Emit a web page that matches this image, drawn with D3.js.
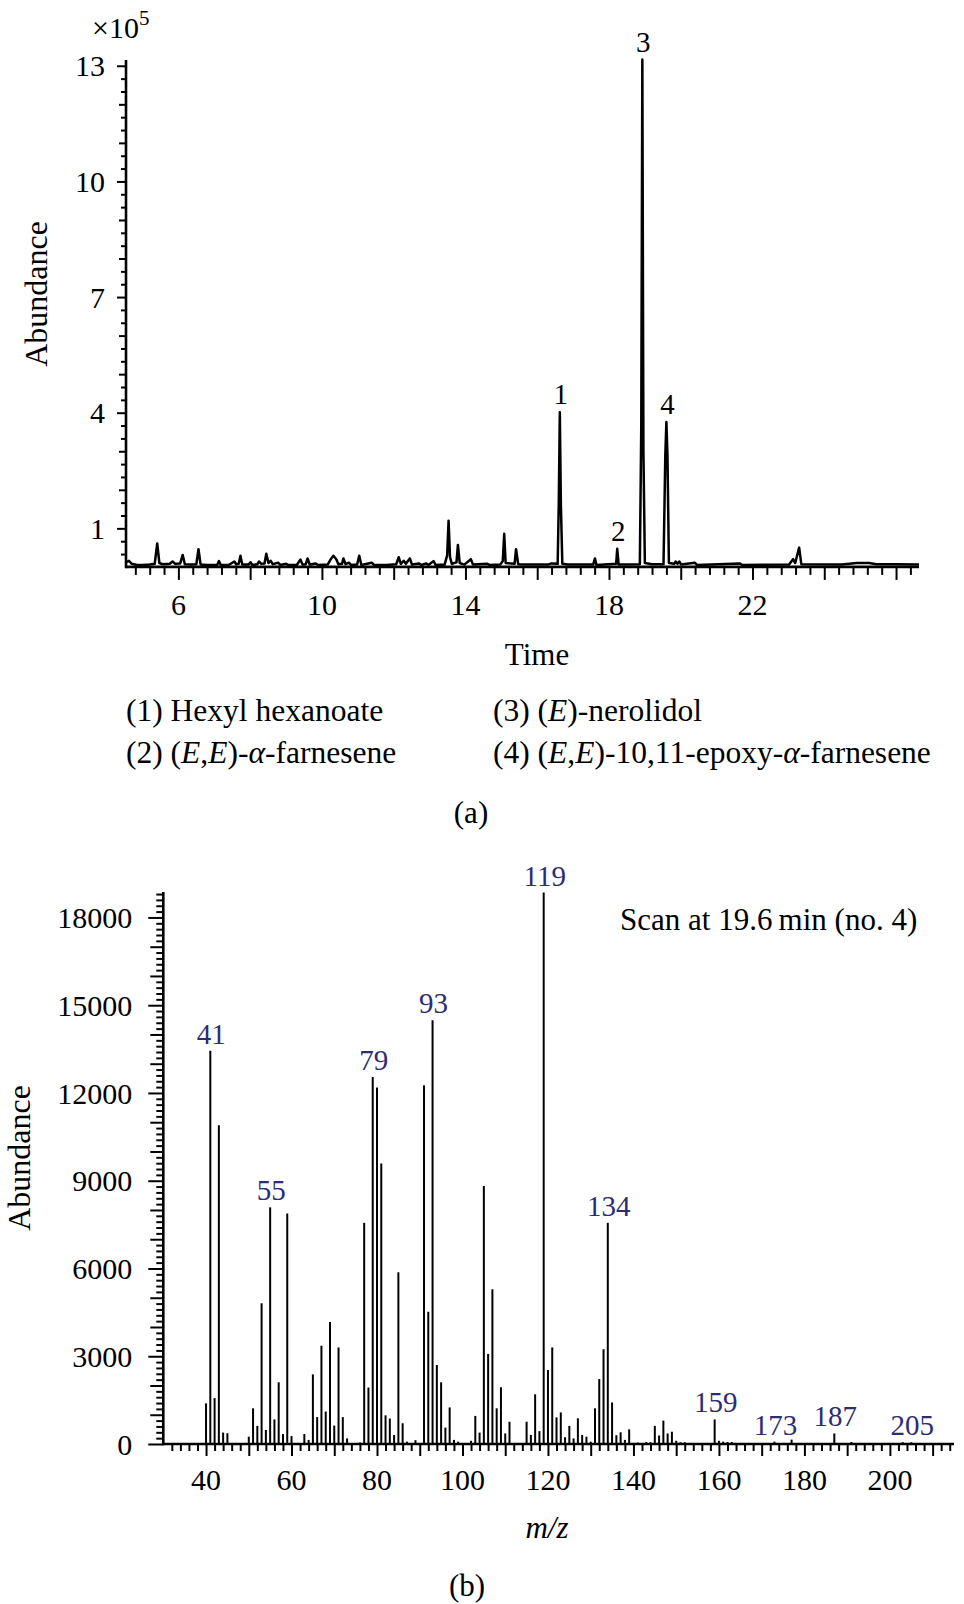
<!DOCTYPE html>
<html>
<head>
<meta charset="utf-8">
<script src="https://cdn.jsdelivr.net/npm/d3@7"></script>
<style>
  html, body { margin: 0; padding: 0; background: #fff; }
  svg text { font-family: "Liberation Serif", "Times New Roman", serif; fill: #000; }
</style>
</head>
<body>
<svg id="fig" width="964" height="1604"></svg>
<script>
// ---------- (a) total ion chromatogram ----------
// retention time (min) and abundance (x10^5) along the trace
const traceTime = [
  4.54, 4.62, 4.70, 4.85, 5.00, 5.20, 5.34, 5.41, 5.47, 5.56, 5.76, 5.84, 5.91, 6.05, 6.12, 6.18,
  6.36, 6.50, 6.56, 6.62, 6.80, 7.08, 7.13, 7.18, 7.40, 7.56, 7.61, 7.68, 7.73, 7.78, 7.95, 8.01,
  8.06, 8.20, 8.25, 8.31, 8.40, 8.45, 8.51, 8.57, 8.63, 8.78, 8.84, 9.00, 9.06, 9.30, 9.40, 9.46,
  9.55, 9.60, 9.66, 9.83, 9.89, 10.16, 10.26, 10.32, 10.40, 10.46, 10.56, 10.60, 10.66, 10.75,
  10.81, 10.98, 11.04, 11.10, 11.39, 11.45, 11.80, 12.07, 12.14, 12.20, 12.28, 12.34, 12.45, 12.51,
  12.71, 12.77, 12.91, 12.97, 13.11, 13.17, 13.42, 13.49, 13.53, 13.57, 13.62, 13.75, 13.79, 13.84,
  13.97, 14.15, 14.21, 14.61, 14.67, 14.97, 15.04, 15.08, 15.12, 15.37, 15.41, 15.47, 15.70, 16.30,
  16.40, 16.57, 16.60, 16.63, 16.66, 16.70, 16.85, 17.56, 17.61, 17.65, 17.98, 18.20, 18.23, 18.27,
  18.86, 18.90, 18.93, 18.96, 19.00, 19.20, 19.52, 19.57, 19.60, 19.63, 19.67, 19.82, 19.86, 19.91,
  19.96, 20.01, 20.39, 20.45, 21.65, 21.71, 23.02, 23.13, 23.19, 23.30, 23.36, 24.50, 24.90, 25.25,
  25.45, 25.96, 26.64
];
const traceAbundance = [
  0.12, 0.16, 0.08, 0.05, 0.05, 0.06, 0.08, 0.61, 0.10, 0.07, 0.08, 0.14, 0.08, 0.09, 0.31, 0.07,
  0.06, 0.07, 0.46, 0.06, 0.05, 0.05, 0.15, 0.05, 0.05, 0.14, 0.07, 0.08, 0.29, 0.06, 0.06, 0.12,
  0.05, 0.07, 0.14, 0.08, 0.09, 0.34, 0.10, 0.16, 0.07, 0.11, 0.05, 0.08, 0.05, 0.05, 0.19, 0.06,
  0.07, 0.22, 0.06, 0.09, 0.05, 0.06, 0.22, 0.29, 0.20, 0.07, 0.08, 0.22, 0.07, 0.11,
  0.05, 0.06, 0.29, 0.05, 0.11, 0.05, 0.05, 0.07, 0.25, 0.08, 0.16, 0.08, 0.22, 0.06,
  0.09, 0.05, 0.09, 0.05, 0.15, 0.05, 0.06, 0.30, 1.20, 0.25, 0.08, 0.12, 0.57, 0.10,
  0.06, 0.20, 0.06, 0.08, 0.05, 0.06, 0.15, 0.86, 0.10, 0.08, 0.46, 0.07, 0.06, 0.06,
  0.09, 0.08, 1.60, 4.01, 1.60, 0.08, 0.06, 0.06, 0.22, 0.05, 0.07, 0.08, 0.47, 0.06,
  0.07, 3.66, 13.16, 3.00, 0.10, 0.07, 0.07, 2.90, 3.76, 2.90, 0.10, 0.08, 0.14, 0.08,
  0.14, 0.06, 0.11, 0.05, 0.09, 0.05, 0.06, 0.20, 0.10, 0.50, 0.07, 0.06, 0.10, 0.10,
  0.07, 0.07, 0.06
];
// numbered compounds
const peakIds = ["1", "2", "3", "4"];
const peakTimes = [16.63, 18.23, 18.93, 19.60];
const peakHeights = [4.01, 0.47, 13.16, 3.76];
// legend entries, as [text, italic] runs
const compoundNames = [
  [["(1) Hexyl hexanoate", false]],
  [["(2) (", false], ["E", true], [",", false], ["E", true], [")-", false], ["\u03b1", true], ["-farnesene", false]],
  [["(3) (", false], ["E", true], [")-nerolidol", false]],
  [["(4) (", false], ["E", true], [",", false], ["E", true], [")-10,11-epoxy-", false], ["\u03b1", true], ["-farnesene", false]]
];
const timeTickLabels = [6, 10, 14, 18, 22];
const abundanceTickLabelsA = [1, 4, 7, 10, 13];

// ---------- (b) mass spectrum of peak 4 ----------
const massMz = [
  40, 41, 42, 43, 44, 45,
  50, 51, 52, 53, 54, 55, 56, 57, 58, 59, 60,
  63, 64, 65, 66, 67, 68, 69, 70, 71, 72, 73,
  76, 77, 78, 79, 80, 81, 82, 83, 84, 85, 86, 87, 89,
  91, 92, 93, 94, 95, 96, 97, 98, 99,
  102, 103, 104, 105, 106, 107, 108, 109, 110, 111,
  115, 116, 117, 118, 119, 120, 121, 122, 123, 124, 125, 126, 127, 128, 129, 130,
  131, 132, 133, 134, 135, 136, 137, 138, 139, 141, 143, 144, 145, 146, 147, 148, 149, 150, 151, 152,
  159, 160, 161, 162, 163, 173, 177, 187, 191, 203, 205
];
const massAbundance = [
  1390, 13440, 1570, 10900, 390, 370,
  250, 1220, 620, 4810, 480, 8090, 840, 2110, 340, 7880, 270,
  340, 140, 2380, 920, 3360, 1110, 4170, 630, 3300, 920, 190,
  50, 7560, 1930, 12550, 12190, 9590, 980, 870, 310, 5870, 710, 80, 130,
  12260, 4520, 14490, 2700, 2110, 560, 1250, 140, 80,
  110, 960, 390, 8820, 3080, 5290, 1220, 1940, 360, 760,
  760, 310, 1700, 440, 18850, 2530, 3300, 910, 1080, 230, 620, 190, 880, 310, 250, 80,
  1220, 2220, 3240, 7560, 1420, 300, 400, 140, 500, 50, 70, 60, 620, 290, 800, 360, 420, 110, 60, 60,
  840, 110, 80, 70, 70, 80, 150, 360, 70, 60, 60
];
const labelledMz = [41, 55, 79, 93, 119, 134, 159, 173, 187, 205];
const mzTickLabels = [40, 60, 80, 100, 120, 140, 160, 180, 200];
const abundanceTickLabelsB = [0, 3000, 6000, 9000, 12000, 15000, 18000];

const svg = d3.select("#fig");
const FS = 30;          // tick label size
const LABEL_COLOR = "#2c2c72";

// draws one tick set (no labels unless a format is given)
function ticks(g, axis, values, size, fmt, width) {
  const a = axis.tickValues(values).tickSize(size).tickSizeOuter(0).tickFormat(fmt || "");
  const sel = g.append("g").call(a);
  sel.select(".domain").remove();
  sel.selectAll(".tick line").attr("stroke", "#000").attr("stroke-width", width || 2);
  sel.attr("font-family", null).attr("font-size", null);
  return sel;
}

// ===== panel (a) =====
const xA = d3.scaleLinear().domain([4.54, 26.64]).range([126, 919]);
const yA = d3.scaleLinear().domain([0, 13.15]).range([566.9, 60]);
const gA = svg.append("g");

// trace
const traceLine = d3.line().x((d, i) => xA(traceTime[i])).y((d, i) => yA(traceAbundance[i]));
gA.append("path")
  .attr("d", traceLine(traceTime))
  .attr("fill", "none").attr("stroke", "#000").attr("stroke-width", 2.5)
  .attr("stroke-linejoin", "round");

// y axis ticks
const axLA = gA.append("g").attr("transform", `translate(${xA.range()[0]},0)`);
const thirds = d3.range(1, 40).map(k => k / 3).filter(v => Math.abs(v - Math.round(v)) > 1e-6);
const wholes = d3.range(1, 14).filter(v => !abundanceTickLabelsA.includes(v));
ticks(axLA, d3.axisLeft(yA), thirds, 5);
ticks(axLA, d3.axisLeft(yA), wholes, 7);
const labA = ticks(axLA, d3.axisLeft(yA), abundanceTickLabelsA, 9, d3.format("d"));
labA.selectAll(".tick text").attr("x", -21).attr("dy", "0.34em")
  .style("font-size", FS + "px").attr("fill", "#000");

// x axis ticks
const axBA = gA.append("g").attr("transform", `translate(0,${yA(0)})`);
const tMinor = d3.range(0, 56).map(k => 4.8 + 0.4 * k).filter(v => v < 26.5 && Math.abs((v - 6) / 2 - Math.round((v - 6) / 2)) > 1e-6);
const tMajor = d3.range(6, 27, 2);
ticks(axBA, d3.axisBottom(xA), tMinor, 8);
ticks(axBA, d3.axisBottom(xA), tMajor, 13);
axBA.append("g").selectAll("text").data(timeTickLabels).join("text")
  .attr("x", d => xA(d)).attr("y", 48).attr("text-anchor", "middle")
  .style("font-size", FS + "px").text(d => d);

// axis lines
gA.append("line").attr("x1", xA.range()[0]).attr("x2", xA.range()[0])
  .attr("y1", yA.range()[1]).attr("y2", yA(0) + 1.3).attr("stroke", "#000").attr("stroke-width", 2.6);
gA.append("line").attr("x1", xA.range()[0]).attr("x2", xA.range()[1])
  .attr("y1", yA(0)).attr("y2", yA(0)).attr("stroke", "#000").attr("stroke-width", 2.6);

// exponent
const expo = gA.append("text").attr("x", 92).attr("y", 38).style("font-size", "30px");
expo.append("tspan").text("\u00d710");
expo.append("tspan").attr("dy", -13).style("font-size", "21px").text("5");

// peak numbers
gA.append("g").selectAll("text").data(peakIds).join("text")
  .attr("x", (d, i) => xA(peakTimes[i]) + 1).attr("y", (d, i) => yA(peakHeights[i]) - 8)
  .attr("text-anchor", "middle").style("font-size", "29px").text(d => d);

// titles
gA.append("text").attr("transform", "translate(47,294) rotate(-90)")
  .attr("text-anchor", "middle").style("font-size", "32px").text("Abundance");
gA.append("text").attr("x", 537).attr("y", 665).attr("text-anchor", "middle")
  .style("font-size", "31px").text("Time");

// legend
const legendX = [126, 126, 493, 493];
const legendY = [721, 763, 721, 763];
const leg = gA.append("g");
compoundNames.forEach((runs, i) => {
  const t = leg.append("text").attr("x", legendX[i]).attr("y", legendY[i]).style("font-size", "31.5px");
  runs.forEach(([s, it]) => t.append("tspan").style("font-style", it ? "italic" : "normal").text(s));
});
gA.append("text").attr("x", 471).attr("y", 823).attr("text-anchor", "middle")
  .style("font-size", "31px").text("(a)");

// ===== panel (b) =====
const xB = d3.scaleLinear().domain([30, 215]).range([163.3, 954]);
const yB = d3.scaleLinear().domain([0, 18870]).range([1444, 892]);
const gB = svg.append("g");

// spectrum bars
gB.append("g").selectAll("line").data(massMz).join("line")
  .attr("x1", d => xB(d)).attr("x2", d => xB(d))
  .attr("y1", yB(0)).attr("y2", (d, i) => yB(massAbundance[i]))
  .attr("stroke", "#000").attr("stroke-width", 2);

// y axis ticks
const axLB = gB.append("g").attr("transform", `translate(${xB.range()[0]},0)`);
const bMinor = d3.range(1, 95).map(k => k * 200).filter(v => v % 1000 !== 0);
const bMid = d3.range(1000, 19000, 1000).filter(v => v % 3000 !== 0);
ticks(axLB, d3.axisLeft(yB), bMinor, 7);
ticks(axLB, d3.axisLeft(yB), bMid, 13);
const labB = ticks(axLB, d3.axisLeft(yB), abundanceTickLabelsB, 15, d3.format("d"));
labB.selectAll(".tick text").attr("x", -31).attr("dy", "0.34em")
  .style("font-size", FS + "px").attr("fill", "#000");

// x axis ticks
const axBB = gB.append("g").attr("transform", `translate(0,${yB(0)})`);
const mMinor = d3.range(32, 215, 2).filter(v => v % 10 !== 0);
const mMajor = d3.range(40, 215, 10);
ticks(axBB, d3.axisBottom(xB), mMinor, 7);
ticks(axBB, d3.axisBottom(xB), mMajor, 12);
axBB.append("g").selectAll("text").data(mzTickLabels).join("text")
  .attr("x", d => xB(d)).attr("y", 46).attr("text-anchor", "middle")
  .style("font-size", FS + "px").text(d => d);

// axis lines
gB.append("line").attr("x1", xB.range()[0]).attr("x2", xB.range()[0])
  .attr("y1", yB.range()[1]).attr("y2", yB(0) + 1.3).attr("stroke", "#000").attr("stroke-width", 2.6);
gB.append("line").attr("x1", xB.range()[0]).attr("x2", xB.range()[1])
  .attr("y1", yB(0)).attr("y2", yB(0)).attr("stroke", "#000").attr("stroke-width", 2.6);

// ion labels
gB.append("g").selectAll("text").data(labelledMz).join("text")
  .attr("x", d => xB(d) + 1)
  .attr("y", d => yB(massAbundance[massMz.indexOf(d)]) - 7)
  .attr("text-anchor", "middle").style("font-size", "29px")
  .style("fill", LABEL_COLOR).text(d => d);

// titles
gB.append("text").attr("transform", "translate(30,1158) rotate(-90)")
  .attr("text-anchor", "middle").style("font-size", "32px").text("Abundance");
gB.append("text").attr("x", 547).attr("y", 1538).attr("text-anchor", "middle")
  .style("font-size", "31px").style("font-style", "italic").text("m/z");
gB.append("text").attr("x", 620).attr("y", 930).style("font-size", "31px")
  .text("Scan at 19.6\u2009min (no. 4)");
gB.append("text").attr("x", 467).attr("y", 1596).attr("text-anchor", "middle")
  .style("font-size", "31px").text("(b)");
</script>
</body>
</html>
